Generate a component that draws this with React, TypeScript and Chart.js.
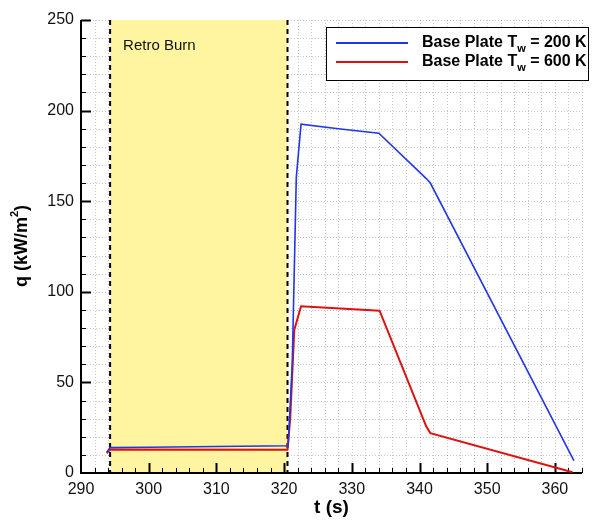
import React, { useEffect, useRef } from 'react';
import { Chart, registerables } from 'chart.js';
Chart.register(...registerables);

// ---- data ----
const blueT = [293.8, 294.3, 300, 310, 320.6, 321.2, 321.8, 322.5, 328, 334, 341.0, 341.6, 362.8];
const blueQ = [11.5, 14.0, 14.2, 14.6, 15.0, 60, 163, 192.5, 190, 187.5, 162.5, 160, 6.8];
const redT = [293.8, 294.3, 320.5, 320.9, 321.5, 322.5, 334.1, 341.0, 341.6, 362.6];
const redQ = [10.8, 13.0, 12.8, 30, 79, 92, 89.6, 25.6, 22, 0.4];
const seriesLabels = ['200 K', '600 K'];
const seriesColors = ['#2136e8', '#e01010'];
const burnStart = 294.3;
const burnEnd = 320.5;
const burnLabel = 'Retro Burn';
const xMin = 290, xMax = 364, xMinor = 2, xMajor = 10;
const yMin = 0, yMax = 250, yMinor = 10, yMajor = 50;
const xTitle = 't (s)';

const FONT = '"Liberation Sans", Arial, Helvetica, sans-serif';

const decor = {
  id: 'decor',
  beforeDatasetsDraw(chart: any) {
    const { ctx, chartArea, scales } = chart;
    const { left, right, top, bottom } = chartArea;
    const x = scales.x, y = scales.y;
    ctx.save();
    // dotted grid
    ctx.strokeStyle = 'rgba(0,0,0,0.22)';
    ctx.lineWidth = 1;
    ctx.setLineDash([1, 2]);
    for (let v = xMin + xMinor; v <= xMax + 1e-6; v += xMinor) {
      const px = Math.round(x.getPixelForValue(v)) + 0.5;
      ctx.beginPath(); ctx.moveTo(px, top); ctx.lineTo(px, bottom); ctx.stroke();
    }
    for (let v = yMin + yMinor; v <= yMax + 1e-6; v += yMinor) {
      const py = Math.round(y.getPixelForValue(v)) + 0.5;
      ctx.beginPath(); ctx.moveTo(left, py); ctx.lineTo(right, py); ctx.stroke();
    }
    ctx.setLineDash([]);
    // burn region
    const bx0 = x.getPixelForValue(burnStart), bx1 = x.getPixelForValue(burnEnd);
    ctx.fillStyle = 'rgb(255,245,160)';
    ctx.fillRect(bx0, top, bx1 - bx0, bottom - top - 1);
    ctx.fillStyle = '#111';
    ctx.font = `15px ${FONT}`;
    ctx.textBaseline = 'alphabetic';
    ctx.textAlign = 'left';
    ctx.fillText(burnLabel, bx0 + 13, top + 30);
    // dashed verticals
    ctx.strokeStyle = '#000';
    ctx.lineWidth = 2;
    ctx.setLineDash([5, 4]);
    for (const v of [burnStart, burnEnd]) {
      const px = x.getPixelForValue(v);
      ctx.beginPath(); ctx.moveTo(px, top); ctx.lineTo(px, bottom); ctx.stroke();
    }
    ctx.setLineDash([]);
    // axes
    ctx.lineWidth = 2;
    ctx.beginPath(); ctx.moveTo(left, top); ctx.lineTo(left, bottom); ctx.lineTo(right, bottom); ctx.stroke();
    // inward ticks
    for (let v = xMin + xMinor; v <= xMax + 1e-6; v += xMinor) {
      const major = Math.abs(v / xMajor - Math.round(v / xMajor)) < 1e-6;
      const px = Math.round(x.getPixelForValue(v)) + 0.5;
      ctx.lineWidth = major ? 2 : 1;
      ctx.beginPath(); ctx.moveTo(px, bottom); ctx.lineTo(px, bottom - (major ? 10 : 5)); ctx.stroke();
    }
    for (let v = yMin + yMinor; v <= yMax + 1e-6; v += yMinor) {
      const major = Math.abs(v / yMajor - Math.round(v / yMajor)) < 1e-6;
      const py = Math.round(y.getPixelForValue(v)) + 0.5;
      ctx.lineWidth = major ? 2 : 1;
      ctx.beginPath(); ctx.moveTo(left, py); ctx.lineTo(left + (major ? 10 : 5), py); ctx.stroke();
    }
    ctx.restore();
  },
  afterDraw(chart: any) {
    const { ctx, chartArea } = chart;
    const { left, right } = chartArea;
    ctx.save();
    ctx.fillStyle = '#000';
    // x title
    ctx.font = `bold 19px ${FONT}`;
    ctx.textAlign = 'center';
    ctx.textBaseline = 'middle';
    ctx.fillText(xTitle, (left + right) / 2, 508);
    // y title with superscript
    ctx.translate(22, 246);
    ctx.rotate(-Math.PI / 2);
    const p1 = 'q (kW/m', p2 = '2', p3 = ')';
    ctx.font = `bold 18px ${FONT}`;
    const w1 = ctx.measureText(p1).width;
    const w3 = ctx.measureText(p3).width;
    ctx.font = `bold 11px ${FONT}`;
    const w2 = ctx.measureText(p2).width;
    let sx = -(w1 + w2 + w3) / 2;
    ctx.textAlign = 'left';
    ctx.font = `bold 18px ${FONT}`;
    ctx.fillText(p1, sx, 0); sx += w1;
    ctx.font = `bold 11px ${FONT}`;
    ctx.fillText(p2, sx, -7); sx += w2;
    ctx.font = `bold 18px ${FONT}`;
    ctx.fillText(p3, sx, 0);
    ctx.restore();

    // legend
    ctx.save();
    const bx = 326, by = 27, bw = 262, bh = 53;
    ctx.fillStyle = '#fff';
    ctx.fillRect(bx, by, bw, bh);
    ctx.strokeStyle = '#000';
    ctx.lineWidth = 1;
    ctx.strokeRect(bx + 0.5, by + 0.5, bw, bh);
    const rows = [43, 62];
    seriesLabels.forEach((lab, i) => {
      const ry = rows[i];
      ctx.strokeStyle = seriesColors[i];
      ctx.lineWidth = 2;
      ctx.beginPath(); ctx.moveTo(336, ry); ctx.lineTo(408, ry); ctx.stroke();
      ctx.fillStyle = '#000';
      ctx.textAlign = 'left';
      ctx.textBaseline = 'middle';
      let tx = 422;
      ctx.font = `bold 16px ${FONT}`;
      const a = 'Base Plate T';
      ctx.fillText(a, tx, ry); tx += ctx.measureText(a).width;
      ctx.font = `bold 11px ${FONT}`;
      ctx.fillText('w', tx, ry + 6); tx += ctx.measureText('w').width;
      ctx.font = `bold 16px ${FONT}`;
      ctx.fillText(' = ' + lab, tx, ry);
    });
    ctx.restore();
  },
};

export default function App() {
  const ref = useRef<HTMLCanvasElement>(null);
  useEffect(() => {
    if (!ref.current) return;
    const mk = (ts: number[], qs: number[]) => ts.map((t, i) => ({ x: t, y: qs[i] }));
    const chart = new Chart(ref.current, {
      type: 'line',
      data: {
        datasets: [
          { label: seriesLabels[0], data: mk(blueT, blueQ), borderColor: seriesColors[0], borderWidth: 1.6, pointRadius: 0, fill: false, tension: 0 },
          { label: seriesLabels[1], data: mk(redT, redQ), borderColor: seriesColors[1], borderWidth: 2, pointRadius: 0, fill: false, tension: 0 },
        ],
      },
      options: {
        responsive: false,
        animation: false,
        devicePixelRatio: 1,
        layout: { padding: { left: 0, top: 20, right: 16, bottom: 0 } },
        plugins: { legend: { display: false }, tooltip: { enabled: false } },
        scales: {
          x: {
            type: 'linear', min: xMin, max: xMax,
            grid: { display: false, drawTicks: false, tickLength: 0 }, border: { display: false },
            afterFit: (s: any) => { s.height = 51; },
            afterBuildTicks: (s: any) => {
              const t = [];
              for (let v = xMin; v <= xMax; v += xMajor) t.push({ value: v });
              s.ticks = t;
            },
            ticks: { autoSkip: false, maxRotation: 0, padding: 7, color: '#111', font: { size: 16, family: FONT } },
          },
          y: {
            type: 'linear', min: yMin, max: yMax,
            grid: { display: false, drawTicks: false, tickLength: 0 }, border: { display: false },
            afterFit: (s: any) => { s.width = 81; },
            afterBuildTicks: (s: any) => {
              const t = [];
              for (let v = yMin; v <= yMax; v += yMajor) t.push({ value: v });
              s.ticks = t;
            },
            ticks: { autoSkip: false, padding: 7, color: '#111', font: { size: 16, family: FONT } },
          },
        },
      },
      plugins: [decor],
    } as any);
    return () => chart.destroy();
  }, []);
  return (
    <div style={{ position: 'absolute', left: 0, top: 0, width: 598, height: 524, background: '#fff' }}>
      <canvas ref={ref} width={598} height={524} style={{ display: 'block' }} />
    </div>
  );
}
